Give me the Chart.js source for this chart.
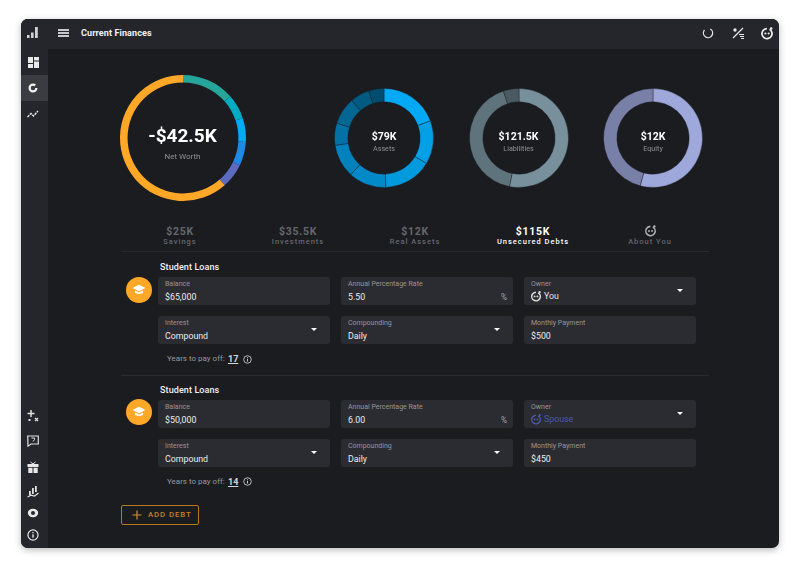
<!DOCTYPE html>
<html>
<head>
<meta charset="utf-8">
<title>Current Finances</title>
<script src="https://cdn.jsdelivr.net/npm/chart.js@4"></script>
<style>
  html, body { margin: 0; padding: 0; background: #fff; width: 800px; height: 568px; overflow: hidden; font-family: Roboto, sans-serif; }
  #app { position: absolute; left: 21px; top: 19px; width: 758px; height: 529px; background: #1b1c20; border-radius: 7px; box-shadow: 0 2px 7px rgba(0,0,0,.28); }
  #page { position: absolute; left: 0; top: 0; width: 800px; height: 568px; }
  .abs { position: absolute; white-space: nowrap; }
  .bar-top { position: absolute; left: 21px; top: 19px; width: 758px; height: 30px; background: #25262b; }
  .bar-side { position: absolute; left: 21px; top: 19px; width: 27px; height: 529px; background: #25262b; }
  .active { position: absolute; left: 21px; top: 75px; width: 27px; height: 26px; background: #3b3c41; }
  canvas.ring { position: absolute; }
  .mid { transform: translate(-50%, -50%); text-align: center; }
  .tab-val { font-size: 10.5px; font-weight: 700; letter-spacing: .7px; color: #66676b; }
  .tab-lab { font-size: 7.5px; font-weight: 500; letter-spacing: 1px; color: #66676b; }
  .on { color: #fff; }
  .field { position: absolute; width: 172px; height: 28px; background: #2b2c31; border-radius: 3px; }
  .field .lab { position: absolute; left: 7px; top: 3px; font-size: 7px; color: #95969a; white-space: nowrap; }
  .field .val { position: absolute; left: 7px; top: 15px; font-size: 8.8px; color: #ececed; white-space: nowrap; }
  .field .pct { position: absolute; right: 6px; top: 15px; font-size: 8.2px; color: #a5a6a9; }
  .tri { position: absolute; right: 13px; top: 12px; width: 0; height: 0; border-left: 3px solid transparent; border-right: 3px solid transparent; border-top: 3.5px solid #fff; }
  .rule { position: absolute; height: 1px; background: #2a2b2f; left: 121px; width: 588px; }
  .title { font-size: 9px; font-weight: 500; color: #f2f2f2; letter-spacing: .1px; }
  .years { font-size: 8px; color: #97989c; }
  .years b { position: absolute; left: 61px; top: 0; color: #d6d6d8; font-weight: 700; font-size: 9px; text-decoration: underline; }
  svg.abs { overflow: visible; }
</style>
</head>
<body>
<div id="app"></div>
<div id="page">
  <div class="abs bar-top" style="border-radius:7px 7px 0 0"></div>
  <div class="abs bar-side" style="border-radius:7px 0 0 7px"></div>
  <div class="active"></div>
  <svg class="abs" style="left:58px;top:29px" width="12" height="9"><path d="M0 1h11M0 4h11M0 7h11" stroke="#fff" stroke-width="1.3"/></svg>
  <div class="abs title" style="left:81px;top:28px;font-weight:700;font-size:9px">Current Finances</div>

  <canvas class="ring" id="ringNetWorth" width="140" height="140" style="left:112.5px;top:68px"></canvas>
  <canvas class="ring" id="ringAssets" width="110" height="110" style="left:329px;top:83px"></canvas>
  <canvas class="ring" id="ringLiabilities" width="110" height="110" style="left:463.5px;top:83px"></canvas>
  <canvas class="ring" id="ringEquity" width="110" height="110" style="left:598px;top:83px"></canvas>

  <div class="abs mid" style="left:182.5px;top:135px;font-size:19px;font-weight:700;color:#fff">-$42.5K</div>
  <div class="abs mid" style="left:182.5px;top:156px;font-size:8px;color:#8f9094">Net Worth</div>
  <div class="abs mid" style="left:384px;top:135.5px;font-size:10.5px;font-weight:700;color:#fff">$79K</div>
  <div class="abs mid" style="left:384px;top:147.5px;font-size:7.2px;color:#8f9094">Assets</div>
  <div class="abs mid" style="left:518.5px;top:135.5px;font-size:10.5px;font-weight:700;color:#fff">$121.5K</div>
  <div class="abs mid" style="left:518.5px;top:147.5px;font-size:7.2px;color:#8f9094">Liabilities</div>
  <div class="abs mid" style="left:653px;top:135.5px;font-size:10.5px;font-weight:700;color:#fff">$12K</div>
  <div class="abs mid" style="left:653px;top:147.5px;font-size:7.2px;color:#8f9094">Equity</div>

  <div id="tabs"></div>
  <div class="rule" style="top:251px"></div>
  <div class="rule" style="top:375px"></div>

  <div class="abs title" style="left:160px;top:262px">Student Loans</div>
  <div class="abs title" style="left:160px;top:384.5px">Student Loans</div>
  <div id="fields"></div>

  <div class="abs years" style="left:167px;top:354px">Years to pay off:<b>17</b></div>
  <div class="abs years" style="left:167px;top:476.5px">Years to pay off:<b>14</b></div>

  <div class="abs" style="left:121px;top:505px;width:76px;height:18px;border:1px solid #b9791f;border-radius:2px"></div>
  <svg class="abs" style="left:132px;top:510px" width="10" height="10"><path d="M5 .5v9M.5 5h9" stroke="#d08f2c" stroke-width="1.2"/></svg>
  <div class="abs" style="left:148px;top:510px;font-size:7.8px;font-weight:500;letter-spacing:.9px;color:#c2832a">ADD DEBT</div>

  <div id="icons"></div>
</div>

<script>
// ring slices, clockwise from 12 o'clock
const netWorthParts = [13.5, 6.4, 6.1, 6.1, 6.4, 61.5];
const netWorthColors = ['#26a69a', '#00acc1', '#03a9f4', '#1e88e5', '#5c6bc0', '#ffa726'];
const assetParts = [15.3, 11.2, 12.5, 9.7, 8.6, 5.7, 7, 5, 3.9];
const assetColors = ['#03a9f4', '#03a0e8', '#0399dd', '#0289c8', '#0281bc', '#0271a5', '#026692', '#015a82', '#014d70'];
const liabilityParts = [64.5, 50.8, 6.2];
const liabilityColors = ['#78909c', '#5f737d', '#4a5a62'];
const equityParts = [6.5, 5.5];
const equityColors = ['#9fa8da', '#7880a8'];

const tabValues = ['$25K', '$35.5K', '$12K', '$115K', ''];
const tabLabels = ['Savings', 'Investments', 'Real Assets', 'Unsecured Debts', 'About You'];

const fieldLabels = ['Balance', 'Annual Percentage Rate', 'Owner', 'Interest', 'Compounding', 'Monthly Payment'];
const firstLoan = ['$65,000', '5.50', 'You', 'Compound', 'Daily', '$500'];
const secondLoan = ['$50,000', '6.00', 'Spouse', 'Compound', 'Daily', '$450'];

function makeRing(canvasId, parts, colors, radius, cutout, seam) {
    new Chart(document.getElementById(canvasId), {
        type: 'doughnut',
        data: {
            datasets: [{
                data: parts,
                backgroundColor: colors,
                borderColor: '#1b1c20',
                borderWidth: seam,
                radius: radius,
                cutout: cutout
            }]
        },
        options: {
            responsive: false,
            animation: false,
            events: [],
            plugins: { legend: { display: false }, tooltip: { enabled: false } }
        }
    });
}

makeRing('ringNetWorth', netWorthParts, netWorthColors, 63, '88%', 0);
makeRing('ringAssets', assetParts, assetColors, 49.5, '73%', 0.4);
makeRing('ringLiabilities', liabilityParts, liabilityColors, 49.5, '73%', 0.4);
makeRing('ringEquity', equityParts, equityColors, 49.5, '73%', 0.4);

// tabs under the rings
const tabX = [180, 298, 415, 533, 650];
let tabHtml = '';
tabLabels.forEach(function(label, i) {
    const cls = i === 3 ? ' on' : '';
    if (tabValues[i]) {
        tabHtml += '<div class="abs mid tab-val' + cls + '" style="left:' + tabX[i] + 'px;top:231px">' + tabValues[i] + '</div>';
    }
    tabHtml += '<div class="abs mid tab-lab' + cls + '" style="left:' + tabX[i] + 'px;top:241px">' + label + '</div>';
});
document.getElementById('tabs').innerHTML = tabHtml;

// simple face icon, used for owners and the top bar
function faceIcon(x, y, color, size) {
    return '<svg class="abs" style="left:' + (x - size / 2) + 'px;top:' + (y - size / 2) + 'px" width="' + size + '" height="' + size + '" viewBox="0 0 12 12">' +
        '<circle cx="6" cy="6.5" r="4.3" fill="none" stroke="' + color + '" stroke-width="1.5" stroke-dasharray="24 3" transform="rotate(-60 6 6.5)"/>' +
        '<circle cx="9.6" cy="2.2" r="1.1" fill="' + color + '"/>' +
        '<circle cx="4.6" cy="6.4" r=".9" fill="' + color + '"/><circle cx="7.4" cy="6.4" r=".9" fill="' + color + '"/></svg>';
}

function capIcon(cx, cy) {
    return '<div class="abs" style="left:' + (cx - 13) + 'px;top:' + (cy - 13) + 'px;width:26px;height:26px;border-radius:50%;background:#ffa726"></div>' +
        '<svg class="abs" style="left:' + (cx - 7) + 'px;top:' + (cy - 6) + 'px" width="14" height="12" viewBox="0 0 14 12">' +
        '<path d="M7 .8 13.5 4 7 7.2.5 4Z" fill="#fff"/><path d="M3 6.6v2.2C4 10.3 10 10.3 11 8.8V6.6L7 8.6Z" fill="#fff"/></svg>';
}

function infoIcon(cx, cy, color, size) {
    return '<svg class="abs" style="left:' + (cx - size / 2) + 'px;top:' + (cy - size / 2) + 'px" width="' + size + '" height="' + size + '" viewBox="0 0 10 10">' +
        '<circle cx="5" cy="5" r="4.2" fill="none" stroke="' + color + '" stroke-width="1"/><path d="M5 4.3v3M5 2.5v1" stroke="' + color + '" stroke-width="1.1"/></svg>';
}

// form fields for one loan
function fieldsHtml(values, top) {
    const xs = [158, 341, 524];
    let html = '';
    values.forEach(function(v, i) {
        const x = xs[i % 3];
        const y = top + (i > 2 ? 39 : 0);
        const select = i === 2 || i === 3 || i === 4;
        let inner = '<div class="lab">' + fieldLabels[i] + '</div>';
        if (i === 2) {
            const spouse = v === 'Spouse';
            const c = spouse ? '#4a58a8' : '#e4e4e5';
            inner += faceIcon(12, 19, c, 12);
            inner += '<div class="val" style="left:20px;top:14px;color:' + c + '">' + v + '</div>';
        } else {
            inner += '<div class="val">' + v + '</div>';
        }
        if (i === 1) inner += '<div class="pct">%</div>';
        if (select) inner += '<div class="tri"></div>';
        html += '<div class="field" style="left:' + x + 'px;top:' + y + 'px">' + inner + '</div>';
    });
    return html;
}

document.getElementById('fields').innerHTML =
    fieldsHtml(firstLoan, 277) + fieldsHtml(secondLoan, 400) +
    capIcon(138.5, 290) + capIcon(138.5, 412) +
    infoIcon(247, 359, '#c8c8ca', 9) + infoIcon(247, 481, '#c8c8ca', 9);

// nav icons
let ic = '';
ic += '<svg class="abs" style="left:26px;top:25px" width="14" height="14"><path d="M1 10h2.6v3H1zM5 7.5h2.6V13H5zM9 2h2.8v11H9z" fill="#d0d0d2"/></svg>';
ic += '<svg class="abs" style="left:28px;top:57px" width="11" height="11"><path d="M0 0h5v6H0zM6 0h5v3.5H6zM0 7h5v4H0zM6 4.5h5V11H6z" fill="#e8e8e8"/></svg>';
ic += '<svg class="abs" style="left:28px;top:83px" width="10" height="10"><circle cx="5" cy="5" r="3.4" fill="none" stroke="#f2f2f2" stroke-width="2.2" stroke-dasharray="18 3"/></svg>';
ic += '<svg class="abs" style="left:27px;top:109px" width="12" height="10"><path d="M.5 8 4 4.5 6.5 7 11 2" fill="none" stroke="#e8e8e8" stroke-width="1.4" stroke-dasharray="2.6 .8"/></svg>';
ic += '<svg class="abs" style="left:27px;top:410px" width="12" height="12"><path d="M4 0v7M.5 3.5h7" stroke="#e0e0e0" stroke-width="1.5"/><path d="M8 8l3 3M11 8l-3 3" stroke="#e0e0e0" stroke-width="1.2"/><path d="M1.5 9h2v2h-2z" fill="#e0e0e0"/></svg>';
ic += '<svg class="abs" style="left:27px;top:435px" width="12" height="12"><path d="M.7 1h10.6v8H4L1 11.2z" fill="none" stroke="#e0e0e0" stroke-width="1.2"/><path d="M4.5 3h3v1.5L6 6.5" fill="none" stroke="#e0e0e0"/></svg>';
ic += '<svg class="abs" style="left:27px;top:461px" width="12" height="12"><path d="M.5 3h11v3H.5zM1.3 6.8h4.2V12H1.3zM6.5 6.8h4.2V12H6.5z" fill="#e8e8e8"/><path d="M3.5 1 6 3l2.5-2" fill="none" stroke="#e8e8e8"/></svg>';
ic += '<svg class="abs" style="left:27px;top:486px" width="12" height="12"><path d="M2 5h1.8v4H2zM5 2h1.8v6H5zM8 0h1.8v6H8z" fill="#e0e0e0"/><path d="M.5 11 4 9.2 7.5 10 11.5 7" fill="none" stroke="#e0e0e0" stroke-width="1.2"/></svg>';
ic += '<svg class="abs" style="left:27px;top:508px" width="12" height="10"><ellipse cx="6" cy="5" rx="5.2" ry="4.2" fill="#e8e8e8"/><circle cx="6" cy="5" r="2" fill="#25262b"/></svg>';
ic += infoIcon(33, 535, '#e8e8e8', 12);
ic += '<svg class="abs" style="left:702px;top:27px" width="12" height="12"><circle cx="6" cy="6" r="4.6" fill="none" stroke="#e8e8e8" stroke-width="1.3" stroke-dasharray="22 7" transform="rotate(-60 6 6)"/></svg>';
ic += '<svg class="abs" style="left:732px;top:27px" width="13" height="12"><path d="M1 11 11 1" stroke="#e8e8e8" stroke-width="1.3"/><circle cx="3" cy="3" r="1.7" fill="#e8e8e8"/><path d="M7 7h5v1H7zM8 9h4v1H8zM9 11h3v1H9z" fill="#e8e8e8"/></svg>';
ic += faceIcon(767, 33, '#eeeeee', 14);
ic += faceIcon(650, 230.5, '#b0b0b2', 13);
document.getElementById('icons').innerHTML = ic;
</script>
</body>
</html>
